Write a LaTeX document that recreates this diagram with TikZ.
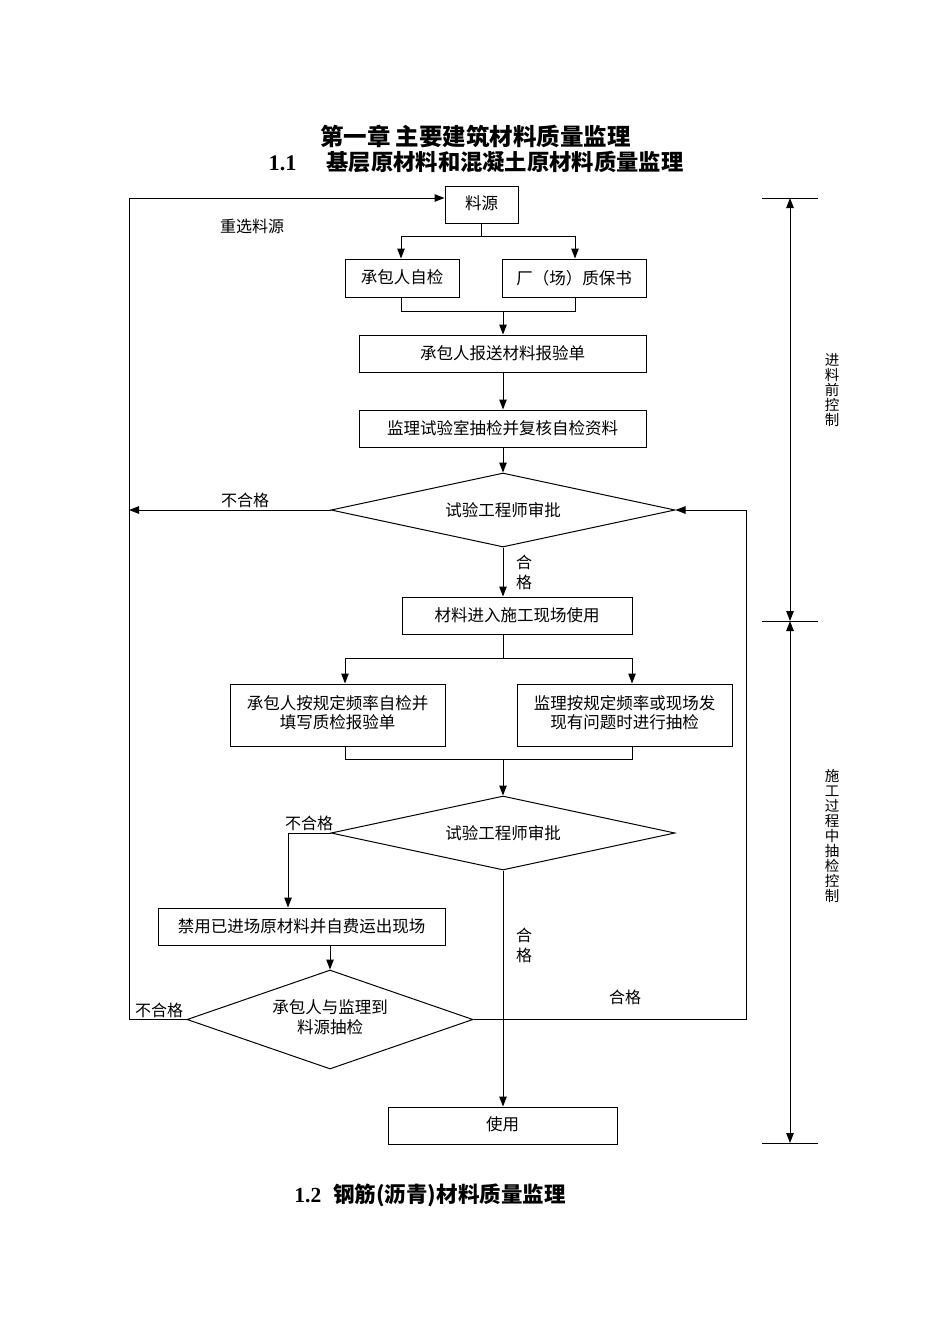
\documentclass[tikz,border=0pt]{standalone}
\usepackage{fontspec}
\setmainfont{Liberation Serif}
\newfontfamily\cjk{Noto Sans CJK SC}
\usetikzlibrary{shapes.geometric,arrows.meta}
\begin{document}
\begin{tikzpicture}[x=1pt,y=-1pt,
  ln/.style={line width=1pt},
  arr/.style={line width=1pt,-{Triangle[length=10pt,width=7.5pt]}},
  darr/.style={line width=1pt,{Triangle[length=10pt,width=7.5pt]}-{Triangle[length=10pt,width=7.5pt]}},
  box/.style={draw,line width=1pt,inner sep=0pt,align=center,font=\cjk\fontsize{16.5}{17.5}\selectfont},
  dia/.style={diamond,draw,line width=1pt,inner sep=0pt,aspect=4,align=center,font=\cjk\fontsize{16.5}{19}\selectfont},
  lbl/.style={inner sep=0pt,font=\cjk\fontsize{16}{17}\selectfont},
  vlbl/.style={inner sep=0pt,align=center,font=\cjk\fontsize{16}{20}\selectfont},
  rlbl/.style={inner sep=0pt,align=center,font=\cjk\fontsize{14.5}{15}\selectfont},
  ttl/.style={inner sep=0pt,font=\cjk\bfseries\fontsize{23.5}{26}\selectfont}
]
\useasboundingbox (0,0) rectangle (950,1344);
% titles
\node[ttl] (t1) at (475.5,136) {第一章 主要建筑材料质量监理};
\node[ttl,font=\cjk\bfseries\fontsize{22.3}{26}\selectfont] (t2) at (476,162) {{\rmfamily\bfseries 1.1}\hspace{30pt}基层原材料和混凝土原材料质量监理};
\node[ttl,font=\cjk\bfseries\fontsize{21.5}{26}\selectfont] (t3) at (430,1195) {{\rmfamily\bfseries 1.2}\hspace{12pt}钢筋(沥青)材料质量监理};
% boxes
\node[box,minimum width=73pt,minimum height=37pt] (src) at (481.5,204.5) {\raisebox{3pt}{料源}};
\node[box,minimum width=114pt,minimum height=38pt] (zj) at (402,278) {\raisebox{2pt}{承包人自检}};
\node[box,minimum width=144pt,minimum height=38pt] (zb) at (574,278) {\raisebox{2pt}{厂（场）质保书}};
\node[box,minimum width=287pt,minimum height=37pt] (bs) at (502.5,353.5) {\raisebox{2pt}{承包人报送材料报验单}};
\node[box,minimum width=287pt,minimum height=37pt] (jl) at (502.5,428.5) {\raisebox{2pt}{监理试验室抽检并复核自检资料}};
\node[dia,minimum width=344pt,minimum height=74pt] (d1) at (503,510) {试验工程师审批};
\node[box,minimum width=230pt,minimum height=37pt] (use1) at (517,615.5) {\raisebox{2pt}{材料进入施工现场使用}};
\node[box,minimum width=215pt,minimum height=62pt] (b1) at (337.5,715) {\raisebox{7pt}{\begin{tabular}{@{}c@{}}承包人按规定频率自检并\\填写质检报验单\end{tabular}}};
\node[box,minimum width=215pt,minimum height=62pt] (b2) at (624.5,715) {\raisebox{7pt}{\begin{tabular}{@{}c@{}}监理按规定频率或现场发\\现有问题时进行抽检\end{tabular}}};
\node[dia,minimum width=344pt,minimum height=74pt] (d2) at (503,833) {试验工程师审批};
\node[box,minimum width=287pt,minimum height=37pt] (jy) at (301.5,926.5) {\raisebox{2pt}{禁用已进场原材料并自费运出现场}};
\node[dia,minimum width=286pt,minimum height=99pt] (d3) at (330,1019.5) {\raisebox{4pt}{\begin{tabular}{@{}c@{}}承包人与监理到\\料源抽检\end{tabular}}};
\node[box,minimum width=229pt,minimum height=37pt] (sy) at (502.5,1125.5) {\raisebox{3pt}{使用}};
% coordinates
\coordinate (Ltop) at (129,198);
\coordinate (Rx) at (746,0);
\coordinate (j1) at (481.5,236);
\coordinate (j1l) at (401,236);
\coordinate (j1r) at (575,236);
\coordinate (j2) at (503,311);
\coordinate (j2l) at (401,311);
\coordinate (j2r) at (575,311);
\coordinate (j3) at (503,658);
\coordinate (j3l) at (345,658);
\coordinate (j3r) at (632,658);
\coordinate (j4) at (503,759);
\coordinate (j4l) at (345,759);
\coordinate (j4r) at (632,759);
\coordinate (k1) at (288,833);
% connectors
\draw[ln] (src.south -| j1) -- (j1);
\draw[ln] (j1l) -- (j1r);
\draw[arr] (j1l) -- (j1l |- zj.north);
\draw[arr] (j1r) -- (j1r |- zb.north);
\draw[ln] (j2l |- zj.south) -- (j2l) -- (j2r) -- (j2r |- zb.south);
\draw[arr] (j2) -- (j2 |- bs.north);
\draw[arr] (j2 |- bs.south) -- (j2 |- jl.north);
\draw[arr] (j2 |- jl.south) -- (d1.north);
\draw[arr] (d1.south) -- (d1.south |- use1.north);
\draw[ln] (j3 |- use1.south) -- (j3);
\draw[ln] (j3l) -- (j3r);
\draw[arr] (j3l) -- (j3l |- b1.north);
\draw[arr] (j3r) -- (j3r |- b2.north);
\draw[ln] (j4l |- b1.south) -- (j4l) -- (j4r) -- (j4r |- b2.south);
\draw[arr] (j4) -- (d2.north);
\draw[arr] (d2.west) -- (k1) -- (k1 |- jy.north);
\draw[arr] (jy.south -| d3.north) -- (d3.north);
\draw[arr] (d2.south) -- (d2.south |- sy.north);
\draw[arr] (d1.west) -- (d1.west -| Ltop);
\draw[arr] (d3.west) -- (d3.west -| Ltop) -- (Ltop) -- (Ltop -| src.west);
\draw[arr] (d3.east) -- (d3.east -| Rx) -- (d1.east -| Rx) -- (d1.east);
% labels
\node[lbl] (l1) at (252,226) {重选料源};
\node[lbl] (l2) at (245,500) {不合格};
\node[lbl] (l3) at (309,823) {不合格};
\node[lbl] (l4) at (159,1010) {不合格};
\node[lbl] (l5) at (625,997) {合格};
\node[vlbl] (l6) at (524,572) {合\\格};
\node[vlbl] (l7) at (524,945) {合\\格};
% right ruler
\coordinate (T1) at (790,198);
\coordinate (T2) at (790,621);
\coordinate (T3) at (790,1143);
\foreach \t in {T1,T2,T3} \draw[ln] (\t) ++(-28,0) -- ++(56,0);
\draw[darr] (T1) -- (T2);
\draw[darr] (T2) -- (T3);
\node[rlbl] (r1) at (832,390) {进\\料\\前\\控\\制};
\node[rlbl] (r2) at (832,836) {施\\工\\过\\程\\中\\抽\\检\\控\\制};
\end{tikzpicture}
\end{document}
